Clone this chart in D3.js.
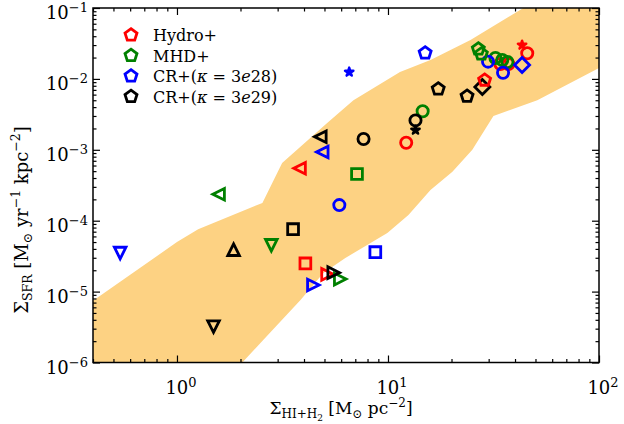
<!DOCTYPE html>
<html><head><meta charset="utf-8">
<script src="https://cdn.jsdelivr.net/npm/d3@7"></script>
<style>
body{margin:0;background:#fff}
svg{display:block}
text{font-family:"DejaVu Serif",serif;fill:#000}
</style>
</head><body>
<svg id="c" width="624" height="424"></svg>
<script>
// ---------------- data ----------------
const xDomain = [0.4, 100];
const yDomain = [1e-6, 1e-1];
const xMajorTicks = [1, 10, 100];
const yMajorTicks = [1e-6, 1e-5, 1e-4, 1e-3, 1e-2, 1e-1];
const xTickLabels = ["0", "1", "2"];
const yTickLabels = ["−6", "−5", "−4", "−3", "−2", "−1"];

// shaded band (observational relation)
const bandUpperX = [0.4, 1.0, 1.26, 2.54, 3.15, 5.15, 6.86, 11.4, 15.9, 24.6, 43.8, 100];
const bandUpperY = [7.4e-6, 5.0e-5, 7.6e-5, 1.78e-4, 6.5e-4, 2.39e-3, 5.0e-3, 1.25e-2, 1.85e-2, 3.54e-2, 0.1, 0.1];
const bandLowerX = [100, 51, 31.6, 25.1, 20.2, 15.9, 12.5, 9.93, 6.28, 4.94, 3.85, 2.57, 2.04, 0.4];
const bandLowerY = [1.43e-2, 5.0e-3, 3.0e-3, 1.0e-3, 4.9e-4, 2.7e-4, 1.2e-4, 6.7e-5, 2.98e-5, 1.83e-5, 7.6e-6, 2.1e-6, 1e-6, 1e-6];

const seriesNames = ["Hydro+", "MHD+", "CR+(κ = 3e28)", "CR+(κ = 3e29)"];
const seriesColors = ["#ff0000", "#008000", "#0000ff", "#000000"];

// [x, y, marker]
const hydroPts = [
  [28.7, 9.6e-3, "p"], [43.2, 0.030, "*"], [45.7, 0.023, "o"], [34.1, 0.0162, "o"], [37.2, 0.0162, "o"],
  [12.2, 1.26e-3, "o"], [3.81, 5.5e-4, "<"], [4.06, 2.5e-5, "s"], [5.17, 1.75e-5, ">"]
];
const mhdPts = [
  [26.8, 0.0264, "p"], [27.7, 0.0225, "p"], [32.3, 0.0197, "o"], [34.8, 0.0185, "o"], [36.8, 0.0173, "o"],
  [14.6, 3.5e-3, "o"], [7.13, 4.56e-4, "s"], [1.575, 2.36e-4, "<"], [2.80, 4.5e-5, "v"], [5.94, 1.5e-5, ">"]
];
const cr28Pts = [
  [15.0, 0.0232, "p"], [6.55, 0.0125, "*"], [29.8, 0.0175, "o"], [35.1, 0.0122, "o"], [43.2, 0.0157, "D"],
  [4.88, 9.3e-4, "<"], [5.88, 1.66e-4, "o"], [8.71, 3.6e-5, "s"], [0.538, 3.5e-5, "v"], [4.43, 1.24e-5, ">"]
];
const cr29Pts = [
  [17.3, 7.2e-3, "p"], [23.7, 5.7e-3, "p"], [28.0, 7.7e-3, "D"], [13.5, 2.6e-3, "o"], [13.5, 1.9e-3, "*"],
  [7.66, 1.42e-3, "o"], [4.78, 1.53e-3, "<"], [3.55, 7.6e-5, "s"], [1.855, 3.9e-5, "^"], [5.53, 1.85e-5, ">"],
  [1.49, 3.2e-6, "v"]
];
const allSeries = [hydroPts, mhdPts, cr28Pts, cr29Pts];
const markerOrder = ["v", "^", "<", ">", "o", "s", "D", "*", "p"];

// ---------------- layout ----------------
const L = 93, R = 599, T = 8, B = 362.5;
const svg = d3.select("#c");
const x = d3.scaleLog().domain(xDomain).range([L, R]);
const y = d3.scaleLog().domain(yDomain).range([B, T]);

svg.append("defs").append("clipPath").attr("id", "clip")
  .append("rect").attr("x", L).attr("y", T).attr("width", R - L).attr("height", B - T);

// band
const bandPts = bandUpperX.map((v, i) => [x(v), y(bandUpperY[i])])
  .concat(bandLowerX.map((v, i) => [x(v), y(bandLowerY[i])]));
svg.append("path").attr("clip-path", "url(#clip)")
  .attr("d", d3.line()(bandPts) + "Z")
  .attr("fill", "#fdd283");

// markers
function markerPath(m) {
  const r = 5.6;
  switch (m) {
    case "o": return d3.symbol(d3.symbolCircle, Math.PI * r * r)();
    case "s": { const h = 5.4; return `M${-h},${-h}H${h}V${h}H${-h}Z`; }
    case "D": { const h = 7.5; return `M0,${-h}L${h},0L0,${h}L${-h},0Z`; }
    case "p": {
      const rr = 6.3; let p = [];
      for (let k = 0; k < 5; k++) { const a = -Math.PI / 2 + k * 2 * Math.PI / 5; p.push([rr * Math.cos(a), rr * Math.sin(a)]); }
      return d3.line()(p) + "Z";
    }
    case "*": return d3.symbol(d3.symbolStar, 22)();
    default: {
      const t = 5.8;
      const base = [[0, -t], [t, t], [-t, t]];
      const rot = { "^": 0, "v": 180, "<": -90, ">": 90 }[m];
      const a = rot * Math.PI / 180;
      const p = base.map(([px, py]) => [px * Math.cos(a) - py * Math.sin(a), px * Math.sin(a) + py * Math.cos(a)]);
      return d3.line()(p) + "Z";
    }
  }
}

const gM = svg.append("g").attr("clip-path", "url(#clip)");
markerOrder.forEach(m => {
  allSeries.forEach((pts, si) => {
    pts.filter(d => d[2] === m).forEach(d => {
      const filled = m === "*";
      gM.append("path")
        .attr("d", markerPath(m))
        .attr("transform", `translate(${x(d[0])},${y(d[1])})`)
        .attr("fill", filled ? seriesColors[si] : "none")
        .attr("stroke", seriesColors[si])
        .attr("stroke-width", filled ? 2.4 : 2.8)
        .attr("stroke-linejoin", filled ? "round" : "miter");
    });
  });
});

// axes / ticks (inward on all sides)
function minorTicks(domain) {
  const out = [];
  for (let e = Math.floor(Math.log10(domain[0])); e < Math.ceil(Math.log10(domain[1])); e++) {
    for (let k = 2; k <= 9; k++) {
      const v = k * Math.pow(10, e);
      if (v >= domain[0] * 0.999 && v <= domain[1] * 1.001) out.push(v);
    }
  }
  return out;
}
const xMinor = minorTicks(xDomain), yMinor = minorTicks(yDomain);
function addAxis(axisFn, scale, vals, size, tx, ty) {
  const g = svg.append("g").attr("transform", `translate(${tx},${ty})`)
    .call(axisFn(scale).tickValues(vals).tickSize(-size).tickFormat(""));
  g.select(".domain").remove();
  g.selectAll("line").attr("stroke", "#000").attr("stroke-width", 1.2);
}
addAxis(d3.axisBottom, x, xMajorTicks, 7, 0, B);
addAxis(d3.axisBottom, x, xMinor, 3.5, 0, B);
addAxis(d3.axisTop, x, xMajorTicks, 7, 0, T);
addAxis(d3.axisTop, x, xMinor, 3.5, 0, T);
addAxis(d3.axisLeft, y, yMajorTicks, 7, L, 0);
addAxis(d3.axisLeft, y, yMinor, 3.5, L, 0);
addAxis(d3.axisRight, y, yMajorTicks, 7, R, 0);
addAxis(d3.axisRight, y, yMinor, 3.5, R, 0);

svg.append("rect").attr("x", L).attr("y", T).attr("width", R - L).attr("height", B - T)
  .attr("fill", "none").attr("stroke", "#000").attr("stroke-width", 1.5);

// tick labels
xMajorTicks.forEach((v, i) => {
  const t = svg.append("text").attr("x", x(v) + 4).attr("y", B + 31)
    .attr("text-anchor", "middle").attr("font-size", 18);
  t.append("tspan").text("10");
  t.append("tspan").attr("dy", -7).attr("font-size", 13).text(xTickLabels[i]);
});
yMajorTicks.forEach((v, i) => {
  const t = svg.append("text").attr("x", 88).attr("y", y(v) + 11)
    .attr("text-anchor", "end").attr("font-size", 18);
  t.append("tspan").text("10");
  t.append("tspan").attr("dy", -7).attr("font-size", 13).text(yTickLabels[i]);
});

// axis titles
const xt = svg.append("text").attr("x", 341).attr("y", 414).attr("text-anchor", "middle").attr("font-size", 17);
xt.append("tspan").text("Σ");
xt.append("tspan").attr("dy", 4).attr("font-size", 12).text("HI+H");
xt.append("tspan").attr("dy", 2.5).attr("font-size", 9).text("2");
xt.append("tspan").attr("dy", -6.5).text(" [M");
xt.append("tspan").attr("dy", 4).attr("font-size", 12).text("⊙");
xt.append("tspan").attr("dy", -4).text(" pc");
xt.append("tspan").attr("dy", -7.5).attr("font-size", 12).text("−2");
xt.append("tspan").attr("dy", 7.5).text("]");

const yt = svg.append("text").attr("transform", "translate(28,220) rotate(-90)")
  .attr("text-anchor", "middle").attr("font-size", 18);
yt.append("tspan").text("Σ");
yt.append("tspan").attr("dy", 4).attr("font-size", 12.5).text("SFR");
yt.append("tspan").attr("dy", -4).text(" [M");
yt.append("tspan").attr("dy", 4).attr("font-size", 12.5).text("⊙");
yt.append("tspan").attr("dy", -4).text(" yr");
yt.append("tspan").attr("dy", -8).attr("font-size", 12.5).text("−1");
yt.append("tspan").attr("dy", 8).text(" kpc");
yt.append("tspan").attr("dy", -8).attr("font-size", 12.5).text("−2");
yt.append("tspan").attr("dy", 8).text("]");

// legend
const legY = [35, 55.5, 76, 96.5];
seriesNames.forEach((name, i) => {
  svg.append("path").attr("d", markerPath("p"))
    .attr("transform", `translate(131,${legY[i]})`)
    .attr("fill", "none").attr("stroke", seriesColors[i]).attr("stroke-width", 2.8);
  const t = svg.append("text").attr("x", 153).attr("y", legY[i] + 6).attr("font-size", 16);
  if (i < 2) { t.text(name); }
  else {
    t.append("tspan").text("CR+(");
    t.append("tspan").attr("font-style", "italic").text("κ");
    t.append("tspan").text(" = 3");
    t.append("tspan").attr("font-style", "italic").text("e");
    t.append("tspan").text(i === 2 ? "28)" : "29)");
  }
});
</script>
</body></html>
